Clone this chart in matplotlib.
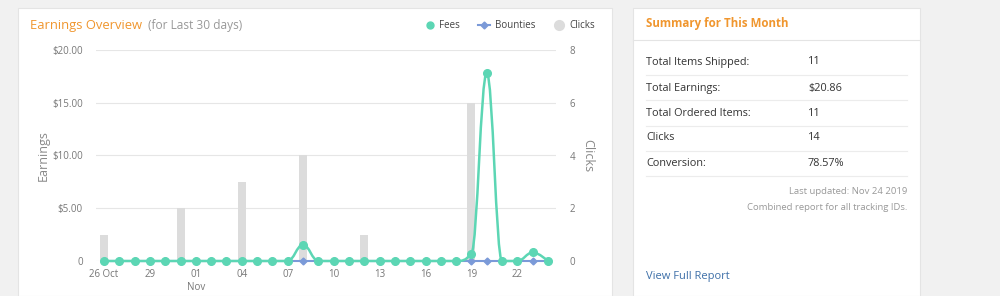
import numpy as np
import matplotlib.pyplot as plt
from matplotlib.path import Path
from matplotlib.patches import PathPatch, Rectangle
from matplotlib.lines import Line2D

plt.rcParams['font.family'] = ['Open Sans', 'DejaVu Sans']

# data (26 Oct - 24 Nov 2019)
days = ['26 Oct', '27', '28', '29', '30', '31', '01', '02', '03', '04',
        '05', '06', '07', '08', '09', '10', '11', '12', '13', '14',
        '15', '16', '17', '18', '19', '20', '21', '22', '23', '24']
fees = [0, 0, 0, 0, 0, 0, 0, 0, 0, 0,
        0, 0, 0, 1.55, 0, 0, 0, 0, 0, 0,
        0, 0, 0, 0, 0.70, 17.80, 0, 0, 0.81, 0]
bounties = [0, 0, 0, 0, 0, 0, 0, 0, 0, 0,
            0, 0, 0, 0, 0, 0, 0, 0, 0, 0,
            0, 0, 0, 0, 0, 0, 0, 0, 0, 0]
clicks = [1, 0, 0, 0, 0, 2, 0, 0, 0, 3,
          0, 0, 0, 4, 0, 0, 0, 1, 0, 0,
          0, 0, 0, 0, 6, 0, 0, 0, 0, 0]
tick_idx = [0, 3, 6, 9, 12, 15, 18, 21, 24, 27]
tick_labels = ['26 Oct', '29', '01\nNov', '04', '07', '10', '13', '16', '19', '22']

summary_labels = ['Total Items Shipped:', 'Total Earnings:', 'Total Ordered Items:',
                  'Clicks', 'Conversion:']
summary_values = ['11', '$20.86', '11', '14', '78.57%']

FEE_C = '#5cd6b4'
BOUNTY_C = '#7b9ad8'
CLICK_C = '#dcdcdc'
ORANGE = '#f0962e'

W, H = 1000, 296
fig = plt.figure(figsize=(W / 100, H / 100), dpi=100)
fig.patch.set_facecolor('#f1f1f1')


def fx(px):
    return px / W


def fy(py):
    return 1 - py / H


# cards
for x0, x1 in [(18, 612), (633, 920)]:
    fig.patches.append(Rectangle((fx(x0), 0), fx(x1 - x0), fy(8), transform=fig.transFigure,
                                 facecolor='white', edgecolor='#e4e4e4', lw=0.8, zorder=-2))
fig.add_artist(Line2D([fx(633), fx(920)], [fy(40), fy(40)], color='#e4e4e4', lw=0.8,
                      zorder=-1))


def spline_path(xs, ys, smoothing=1.5):
    # highcharts-like spline with control points, no overshoot
    n = len(xs)
    lc = [None] * n
    rc = [None] * n
    for i in range(1, n - 1):
        x, y = xs[i], ys[i]
        lx, ly = xs[i - 1], ys[i - 1]
        nx, ny = xs[i + 1], ys[i + 1]
        d = smoothing + 1
        lcx = (smoothing * x + lx) / d
        lcy = (smoothing * y + ly) / d
        rcx = (smoothing * x + nx) / d
        rcy = (smoothing * y + ny) / d
        corr = ((rcy - lcy) * (rcx - x)) / (rcx - lcx) + y - rcy
        lcy += corr
        rcy += corr
        if lcy > ly and lcy > y:
            lcy = max(ly, y)
            rcy = 2 * y - lcy
        elif lcy < ly and lcy < y:
            lcy = min(ly, y)
            rcy = 2 * y - lcy
        if rcy > ny and rcy > y:
            rcy = max(ny, y)
            lcy = 2 * y - rcy
        elif rcy < ny and rcy < y:
            rcy = min(ny, y)
            lcy = 2 * y - rcy
        lc[i] = (lcx, lcy)
        rc[i] = (rcx, rcy)
    verts = [(xs[0], ys[0])]
    codes = [Path.MOVETO]
    for i in range(1, n):
        c1 = rc[i - 1] if rc[i - 1] else (xs[i - 1], ys[i - 1])
        c2 = lc[i] if lc[i] else (xs[i], ys[i])
        verts += [c1, c2, (xs[i], ys[i])]
        codes += [Path.CURVE4] * 3
    return Path(verts, codes)


x = np.arange(len(days))
ax = fig.add_axes([fx(96), fy(261), fx(556 - 96), fy(50) - fy(261)])
ax2 = ax.twinx()
ax2.set_zorder(1)
ax.set_zorder(2)
ax.patch.set_visible(False)
ax2.patch.set_visible(False)

# clicks bars on the right axis
ax2.bar(x, clicks, width=0.52, color=CLICK_C, zorder=1)
ax2.set_ylim(0, 8)
ax2.set_yticks([0, 2, 4, 6, 8])

ax.set_xlim(-8 / 15.33, 29 + 8 / 15.33)
ax.set_ylim(0, 20)
ax.set_yticks([0, 5, 10, 15, 20])
ax.set_yticklabels(['0', '$5.00', '$10.00', '$15.00', '$20.00'])
ax2.grid(axis='y', color='#e6e6e6', lw=0.8, zorder=0)
ax2.set_axisbelow(True)

# bounties + fees lines
ax.plot(x, bounties, color=BOUNTY_C, lw=1.5, marker='D', ms=3.5, clip_on=False, zorder=3)
ax.add_patch(PathPatch(spline_path(list(x), fees), facecolor='none', edgecolor=FEE_C,
                       lw=1.8, clip_on=False, zorder=4))
ax.plot(x, fees, ls='none', marker='o', ms=5.5, color=FEE_C, clip_on=False, zorder=5)

ax.set_xticks(tick_idx)
ax.set_xticklabels(tick_labels)
for a in (ax, ax2):
    for s in a.spines.values():
        s.set_visible(False)
    a.tick_params(length=0, labelsize=7, colors='#777777')
ax.tick_params(axis='x', pad=5.5)
ax.tick_params(axis='y', pad=9.5)
ax2.tick_params(axis='y', pad=10)
for t in ax.get_xticklabels():
    t.set_linespacing(1.3)
    t.set_verticalalignment('top')

ax.set_ylabel('Earnings', fontsize=9, color='#888888', labelpad=2)
ax2.set_ylabel('Clicks', fontsize=9, color='#888888', rotation=270, labelpad=4)
ax2.yaxis.label.set_verticalalignment('bottom')

# title & legend
fig.text(fx(30), fy(26), 'Earnings Overview', fontsize=9.4, color=ORANGE, va='center')
fig.text(fx(148), fy(26), '(for Last 30 days)', fontsize=8.6, color='#999999', va='center')
fig.add_artist(Line2D([fx(430)], [fy(25)], marker='o', ms=5, color=FEE_C, ls='none'))
fig.text(fx(439), fy(25), 'Fees', fontsize=7.0, color='#444444', va='center')
fig.add_artist(Line2D([fx(478), fx(490)], [fy(25), fy(25)], color=BOUNTY_C, lw=1.5))
fig.add_artist(Line2D([fx(484)], [fy(25)], marker='D', ms=3.5, color=BOUNTY_C, ls='none'))
fig.text(fx(495), fy(25), 'Bounties', fontsize=7.0, color='#444444', va='center')
fig.add_artist(Line2D([fx(559)], [fy(25)], marker='o', ms=7, color=CLICK_C, ls='none'))
fig.text(fx(569), fy(25), 'Clicks', fontsize=7.0, color='#444444', va='center')

# summary card
fig.text(fx(646), fy(23), 'Summary for This Month', fontsize=8.3, fontweight='bold',
         color=ORANGE, va='center')
row_y = [62, 88, 113, 138, 163]
for yy, lab, val in zip(row_y, summary_labels, summary_values):
    fig.text(fx(646), fy(yy), lab, fontsize=7.8, color='#333333', va='center')
    fig.text(fx(808), fy(yy), val, fontsize=7.8, color='#333333', va='center')
    fig.add_artist(Line2D([fx(646), fx(907)], [fy(yy + 12.5), fy(yy + 12.5)],
                          color='#ececec', lw=0.8))
fig.text(fx(907), fy(192), 'Last updated: Nov 24 2019', fontsize=6.8, color='#999999',
         ha='right', va='center')
fig.text(fx(907), fy(208), 'Combined report for all tracking IDs.', fontsize=6.8,
         color='#999999', ha='right', va='center')
fig.text(fx(646), fy(277), 'View Full Report', fontsize=8, color='#3d6fa8', va='center')

fig.savefig('out.png', dpi=100, facecolor=fig.get_facecolor())
